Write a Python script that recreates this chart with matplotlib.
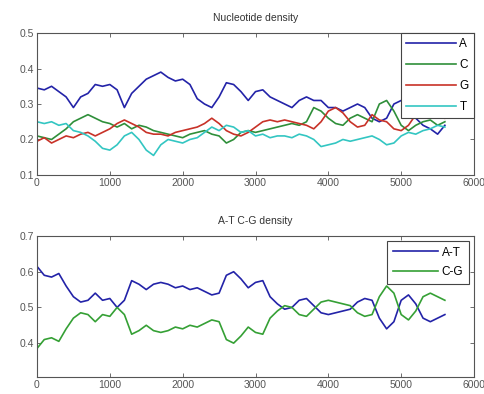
import matplotlib
matplotlib.use("Agg")
import matplotlib.pyplot as plt

positions = list(range(0, 5700, 100))

dens_A = [0.345, 0.34, 0.35, 0.335, 0.32, 0.29, 0.32, 0.33, 0.355, 0.35,
          0.355, 0.34, 0.29, 0.33, 0.35, 0.37, 0.38, 0.39, 0.375, 0.365,
          0.37, 0.355, 0.315, 0.30, 0.29, 0.32, 0.36, 0.355, 0.335, 0.31,
          0.335, 0.34, 0.32, 0.31, 0.30, 0.29, 0.31, 0.32, 0.31, 0.31,
          0.29, 0.29, 0.28, 0.29, 0.30, 0.29, 0.26, 0.25, 0.26, 0.30,
          0.31, 0.30, 0.26, 0.24, 0.23, 0.215, 0.24]
dens_C = [0.21, 0.205, 0.20, 0.215, 0.23, 0.25, 0.26, 0.27, 0.26, 0.25,
          0.245, 0.235, 0.245, 0.23, 0.24, 0.235, 0.225, 0.22, 0.215, 0.21,
          0.205, 0.215, 0.22, 0.225, 0.215, 0.21, 0.19, 0.20, 0.22, 0.225,
          0.22, 0.225, 0.23, 0.235, 0.24, 0.245, 0.24, 0.25, 0.29, 0.28,
          0.26, 0.245, 0.24, 0.26, 0.27, 0.26, 0.25, 0.30, 0.31, 0.28,
          0.24, 0.225, 0.24, 0.25, 0.255, 0.24, 0.25]
dens_G = [0.195, 0.205, 0.19, 0.20, 0.21, 0.205, 0.215, 0.22, 0.21, 0.22,
          0.23, 0.245, 0.255, 0.245, 0.235, 0.22, 0.215, 0.215, 0.21, 0.22,
          0.225, 0.23, 0.235, 0.245, 0.26, 0.245, 0.225, 0.215, 0.21, 0.22,
          0.235, 0.25, 0.255, 0.25, 0.255, 0.25, 0.245, 0.24, 0.23, 0.25,
          0.28, 0.29, 0.275, 0.25, 0.235, 0.24, 0.27, 0.255, 0.25, 0.23,
          0.225, 0.24, 0.27, 0.275, 0.28, 0.28, 0.26]
dens_T = [0.25, 0.245, 0.25, 0.24, 0.245, 0.225, 0.22, 0.21, 0.195, 0.175,
          0.17, 0.185, 0.21, 0.22, 0.20, 0.17, 0.155, 0.185, 0.20, 0.195,
          0.19, 0.20, 0.205, 0.22, 0.235, 0.225, 0.24, 0.235, 0.22, 0.225,
          0.21, 0.215, 0.205, 0.21, 0.21, 0.205, 0.215, 0.21, 0.20, 0.18,
          0.185, 0.19, 0.20, 0.195, 0.20, 0.205, 0.21, 0.20, 0.185, 0.19,
          0.21, 0.22, 0.215, 0.225, 0.23, 0.24, 0.235]

dens_AT = [0.615, 0.59, 0.585, 0.595, 0.56, 0.53, 0.515, 0.52, 0.54, 0.52,
           0.525, 0.50, 0.52, 0.575, 0.565, 0.55, 0.565, 0.57, 0.565, 0.555,
           0.56, 0.55, 0.555, 0.545, 0.535, 0.54, 0.59, 0.60, 0.58, 0.555,
           0.57, 0.575, 0.53, 0.51, 0.495, 0.50, 0.52, 0.525, 0.505, 0.485,
           0.48, 0.485, 0.49, 0.495, 0.515, 0.525, 0.52, 0.47, 0.44, 0.46,
           0.52, 0.535, 0.51, 0.47, 0.46, 0.47, 0.48]
dens_CG = [0.385, 0.41, 0.415, 0.405, 0.44, 0.47, 0.485, 0.48, 0.46, 0.48,
           0.475, 0.50, 0.48, 0.425, 0.435, 0.45, 0.435, 0.43, 0.435, 0.445,
           0.44, 0.45, 0.445, 0.455, 0.465, 0.46, 0.41, 0.40, 0.42, 0.445,
           0.43, 0.425, 0.47, 0.49, 0.505, 0.50, 0.48, 0.475, 0.495, 0.515,
           0.52, 0.515, 0.51, 0.505, 0.485, 0.475, 0.48, 0.53, 0.56, 0.54,
           0.48, 0.465, 0.49, 0.53, 0.54, 0.53, 0.52]

top_labels = ["A", "C", "G", "T"]
bottom_labels = ["A-T", "C-G"]
xticks = [0, 1000, 2000, 3000, 4000, 5000, 6000]
top_yticks = [0.1, 0.2, 0.3, 0.4, 0.5]
bottom_yticks = [0.4, 0.5, 0.6, 0.7]

plt.rcParams['font.family'] = ['Liberation Sans', 'DejaVu Sans']

fig = plt.figure(figsize=(4.84, 3.94), dpi=100)
ax1 = fig.add_axes([0.0764, 0.556, 0.903, 0.360])
ax2 = fig.add_axes([0.0764, 0.043, 0.903, 0.358])

blue = '#2323a8'
green = '#2f8f3a'
red = '#c83228'
cyan = '#33c6c2'

for vals, col, lab in zip([dens_A, dens_C, dens_G, dens_T], [blue, green, red, cyan], top_labels):
    ax1.plot(positions, vals, color=col, lw=1.2, label=lab)
ax2.plot(positions, dens_AT, color=blue, lw=1.2, label=bottom_labels[0])
ax2.plot(positions, dens_CG, color='#35a035', lw=1.2, label=bottom_labels[1])

for ax, yl, yt, title in [(ax1, (0.1, 0.5), top_yticks, "Nucleotide density"),
                          (ax2, (0.305, 0.7), bottom_yticks, "A-T C-G density")]:
    ax.set_xlim(0, 6000)
    ax.set_ylim(*yl)
    ax.set_xticks(xticks)
    ax.set_yticks(yt)
    ax.set_yticklabels([f"{v:.1f}" for v in yt])
    ax.tick_params(direction='in', top=True, right=True, length=3, width=0.6,
                   labelsize=7.5, colors='#555555', labelcolor='#555555', pad=2)
    for s in ax.spines.values():
        s.set_color('#555555')
        s.set_linewidth(0.8)
    ax.set_title(title, fontsize=7.5, color='#333333', pad=9)

leg1 = ax1.legend(loc='upper right', fontsize=8.5, handlelength=4.2, handletextpad=0.3,
                  borderaxespad=0.0, fancybox=False, framealpha=1, borderpad=0.45,
                  labelspacing=0.75)
leg1.get_frame().set_edgecolor('#444444')
leg1.get_frame().set_linewidth(0.8)
leg2 = ax2.legend(loc='upper right', fontsize=8.5, handlelength=3.8, handletextpad=0.3,
                  borderaxespad=0.4, fancybox=False, framealpha=1, borderpad=0.5,
                  labelspacing=0.6)
leg2.get_frame().set_edgecolor('#444444')
leg2.get_frame().set_linewidth(0.8)

fig.savefig("out.png", dpi=100)
